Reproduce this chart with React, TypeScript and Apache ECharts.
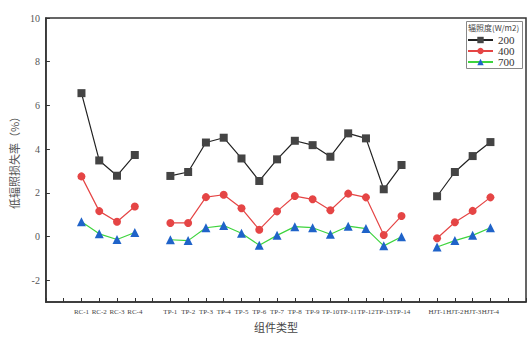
import React, { useEffect, useRef } from "react";
import * as echarts from "echarts";

const rcLabels = ["RC-1", "RC-2", "RC-3", "RC-4"];
const tpLabels = ["TP-1", "TP-2", "TP-3", "TP-4", "TP-5", "TP-6", "TP-7", "TP-8", "TP-9", "TP-10", "TP-11", "TP-12", "TP-13", "TP-14"];
const hjtLabels = ["HJT-1", "HJT-2", "HJT-3", "HJT-4"];

const rc200 = [6.56, 3.48, 2.78, 3.73];
const tp200 = [2.77, 2.95, 4.3, 4.52, 3.57, 2.54, 3.53, 4.38, 4.18, 3.65, 4.72, 4.49, 2.16, 3.27];
const hjt200 = [1.84, 2.95, 3.68, 4.32];

const rc400 = [2.75, 1.16, 0.67, 1.37];
const tp400 = [0.62, 0.62, 1.8, 1.91, 1.29, 0.31, 1.15, 1.85, 1.7, 1.2, 1.96, 1.79, 0.07, 0.94];
const hjt400 = [-0.08, 0.65, 1.17, 1.79];

const rc700 = [0.67, 0.12, -0.14, 0.18];
const tp700 = [-0.15, -0.19, 0.4, 0.5, 0.15, -0.4, 0.05, 0.45, 0.4, 0.1, 0.47, 0.36, -0.43, -0.01];
const hjt700 = [-0.48, -0.19, 0.05, 0.4];

const yTicks = [-2, 0, 2, 4, 6, 8, 10];
const seriesNames = ["200", "400", "700"];

const categories = ["", "", ...rcLabels, "", ...tpLabels, "", ...hjtLabels, "", ""];
const build = (rc: number[], tp: number[], hjt: number[]) => [null, null, ...rc, null, ...tp, null, ...hjt, null, null];

export default function App() {
  const ref = useRef<HTMLDivElement>(null);
  useEffect(() => {
    document.body.style.margin = "0";
    const chart = echarts.init(ref.current!, null, { renderer: "svg" });
    const serif = "Liberation Serif";
    chart.setOption({
      animation: false,
      backgroundColor: "#fff",
      grid: { left: 34, right: 6, top: 18, bottom: 35, show: true, borderColor: "#333", borderWidth: 1.5, backgroundColor: "transparent" },
      legend: {
        orient: "vertical",
        left: 467,
        top: 34.5,
        padding: 0,
        itemWidth: 25,
        itemHeight: 8,
        itemGap: 0,
        textStyle: { fontSize: 11, fontFamily: serif, color: "#333", lineHeight: 11 },
        data: seriesNames,
      },
      graphic: [
        {
          type: "rect",
          shape: { x: 466.5, y: 21.5, width: 56, height: 47 },
          style: { fill: "#fff", stroke: "#888", lineWidth: 1 },
          z: -1,
        },
        {
          type: "text",
          left: 468,
          top: 23.5,
          style: { text: "辐照度(W/m2)", fontSize: 8, fontFamily: "Noto Sans CJK SC", fill: "#444" },
        },
      ],
      xAxis: {
        type: "category",
        data: categories,
        boundaryGap: false,
        name: "组件类型",
        nameLocation: "middle",
        nameGap: 19,
        nameTextStyle: { fontSize: 11, color: "#444", fontFamily: "Noto Sans CJK SC", padding: [0, 20, 0, 0] },
        axisLine: { onZero: false, lineStyle: { color: "#333", width: 1.5 } },
        axisTick: { inside: true, length: 4, interval: 0, lineStyle: { color: "#333" } },
        axisLabel: { interval: 0, fontSize: 7, color: "#444", fontFamily: serif, margin: 6 },
        splitLine: { show: false },
      },
      yAxis: {
        type: "value",
        min: -3,
        max: 10,
        name: "低辐照损失率（%）",
        nameLocation: "middle",
        nameGap: 20,
        nameTextStyle: { fontSize: 11, color: "#555", fontFamily: "Noto Sans CJK SC" },
        axisLine: { show: true, lineStyle: { color: "#333", width: 1.5 } },
        axisTick: { show: true, inside: true, length: 4, customValues: yTicks, lineStyle: { color: "#333" } },
        axisLabel: { fontSize: 10, color: "#555", fontFamily: serif, margin: 6, customValues: yTicks },
        splitLine: { show: false },
      },
      series: [
        {
          name: "200",
          type: "line",
          data: build(rc200, tp200, hjt200),
          symbol: "rect",
          symbolSize: 8,
          itemStyle: { color: "#444" },
          lineStyle: { color: "#222", width: 1.2 },
          connectNulls: false,
        },
        {
          name: "400",
          type: "line",
          data: build(rc400, tp400, hjt400),
          symbol: "circle",
          symbolSize: 8,
          itemStyle: { color: "#e54545" },
          lineStyle: { color: "#e54545", width: 1.2 },
          connectNulls: false,
        },
        {
          name: "700",
          type: "line",
          data: build(rc700, tp700, hjt700),
          symbol: "triangle",
          symbolSize: 9,
          itemStyle: { color: "#1f63c9" },
          lineStyle: { color: "#3ed43e", width: 1.2 },
          connectNulls: false,
        },
      ],
    });
    return () => chart.dispose();
  }, []);
  return <div ref={ref} style={{ width: 532, height: 337 }} />;
}
